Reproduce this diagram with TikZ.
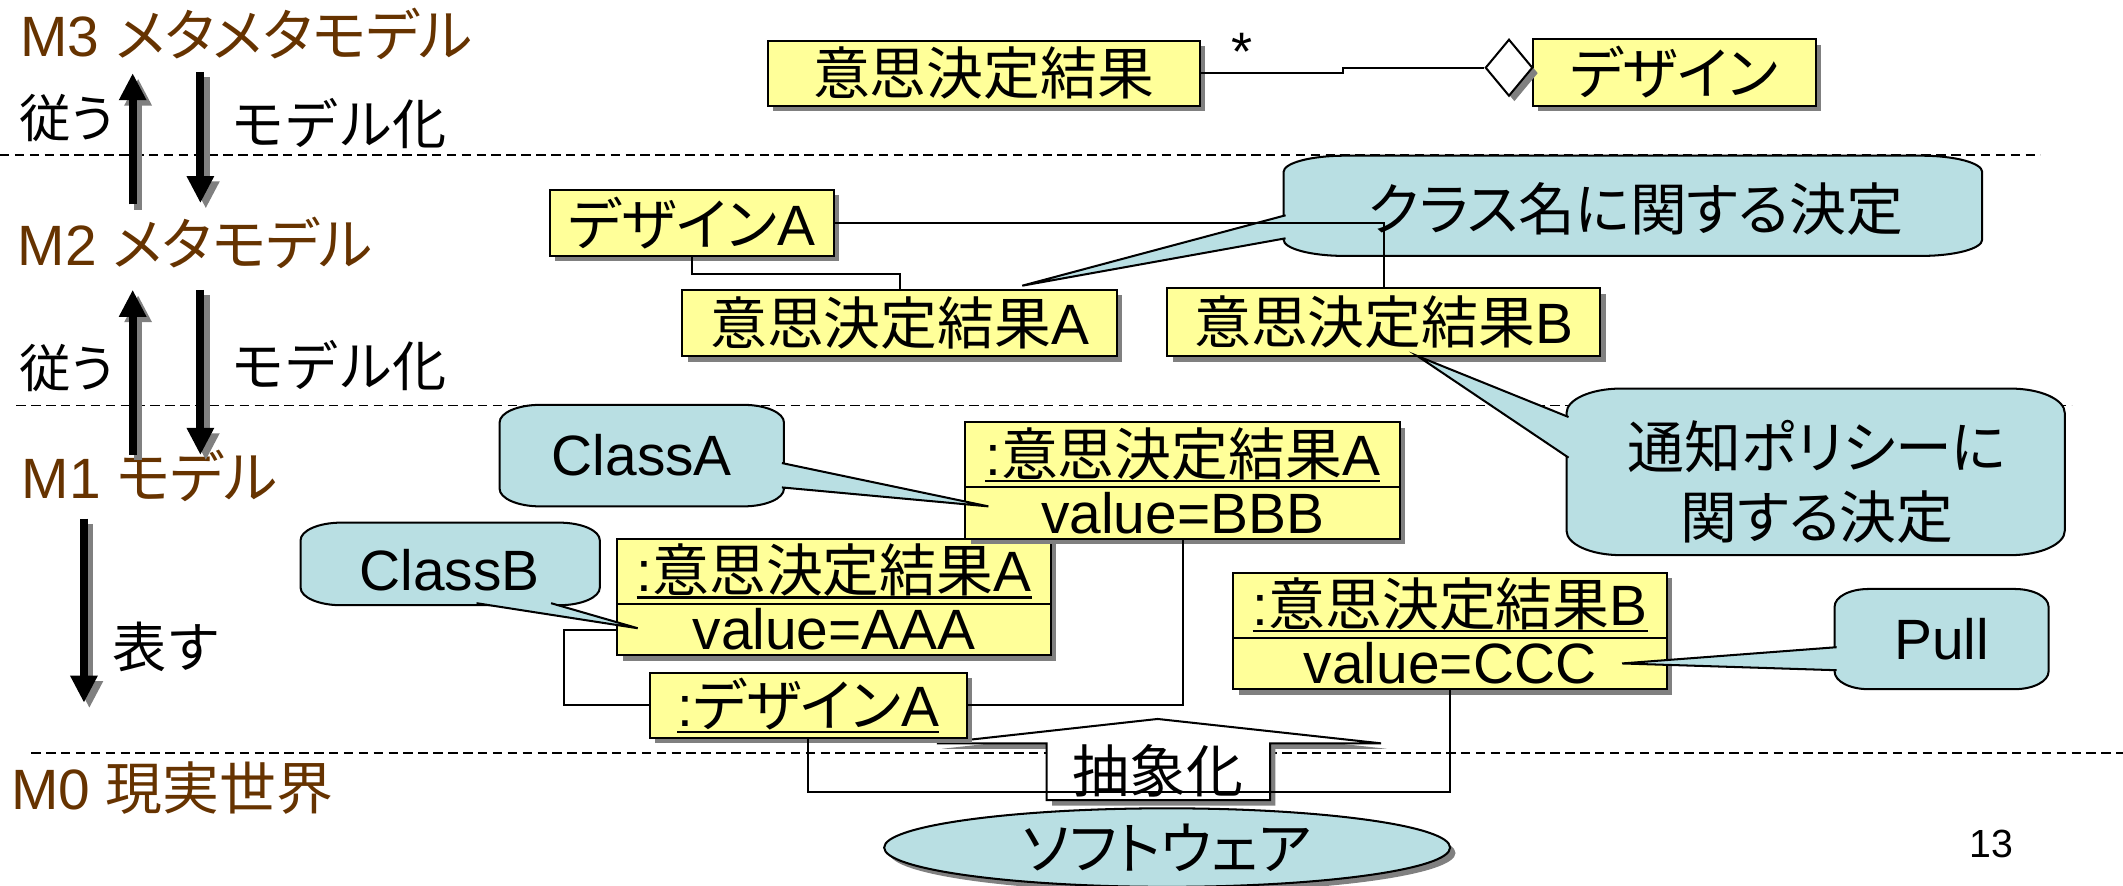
\documentclass[tikz,border=0pt]{standalone}
\usepackage{fontspec}
\setmainfont{Liberation Sans}
\newfontfamily\jpfont[RawFeature=+palt]{Noto Sans CJK JP}
\newfontfamily\jpfull{Noto Sans CJK JP}
\usetikzlibrary{arrows.meta,shapes.geometric,shadows}
\newcommand\J[1]{{\jpfont #1}}
\newcommand\JF[1]{{\jpfull #1}}
\newcommand\fsz[1]{\fontsize{#1pt}{#1pt}\selectfont}
\newcommand\ulin[1]{\setbox0\hbox{#1}\rlap{\rule[-5pt]{\wd0}{1.8pt}}\box0}
\definecolor{boxyellow}{RGB}{255,255,153}
\definecolor{callblue}{RGB}{185,223,227}
\definecolor{mbrown}{RGB}{102,51,0}
\definecolor{shadowgray}{RGB}{128,128,128}
\newcommand\callbody[6]{%
  \pgfmathsetmacro\cxa{#1+#5}\pgfmathsetmacro\cxb{#3-#5}%
  \pgfmathsetmacro\cya{#2+#6}\pgfmathsetmacro\cyb{#4-#6}%
  \pgfmathsetmacro\kxa{#1+0.4477*#5}\pgfmathsetmacro\kxb{#3-0.4477*#5}%
  \pgfmathsetmacro\kya{#2+0.4477*#6}\pgfmathsetmacro\kyb{#4-0.4477*#6}%
  \filldraw[callbody] (\cxa,#2) -- (\cxb,#2) .. controls (\kxb,#2) and (#3,\kya) .. (#3,\cya)
    -- (#3,\cyb) .. controls (#3,\kyb) and (\kxb,#4) .. (\cxb,#4)
    -- (\cxa,#4) .. controls (\kxa,#4) and (#1,\kyb) .. (#1,\cyb)
    -- (#1,\cya) .. controls (#1,\kya) and (\kxa,#2) .. (\cxa,#2) -- cycle;
}
\newcommand\callptr[3]{\fill[callblue] #1 -- #2 -- #3 -- cycle; \draw[callline] #1 -- #2 -- #3;}
\newcommand\fatarr[2]{\draw[fatshadow] ([shift={(4,4)}]#1) -- ([shift={(4,4)}]#2); \draw[fatarrow] (#1) -- (#2);}
\begin{document}
\begin{tikzpicture}[x=1pt,y=-1pt,
  box/.style={draw, line width=1.5pt, fill=boxyellow, inner sep=0pt, font=\fsz{42},
    drop shadow={shadow xshift=4pt,shadow yshift=-4pt,fill=shadowgray,opacity=1}},
  conn/.style={line width=1.4pt},
  dashline/.style={line width=1.3pt, dash pattern=on 7pt off 4pt},
  callbody/.style={fill=callblue, draw=black, line width=1.5pt},
  callline/.style={draw=black, line width=1.5pt, line join=miter},
  calltext/.style={font=\fsz{42}, inner sep=0pt},
  mlabel/.style={font=\fsz{42}, text=mbrown, inner sep=0pt, anchor=base west},
  alabel/.style={font=\fsz{40}, inner sep=0pt},
  fatarrow/.style={line width=6pt, -{Triangle[width=19pt,length=20pt]}},
  fatshadow/.style={fatarrow, draw=shadowgray}]
\useasboundingbox (0,0) rectangle (1568,654);
\fill[white] (0,0) rectangle (1568,654);

% dashed level separators
\draw[dashline] (0,114.5) -- (1507,114.5);
\draw[dashline] (12,299.5) -- (1530,299.5);
\draw[dashline] (23,556) -- (1568,556);

% level labels
\node[mlabel] (m3) at (15,42) {M3 \J{メタメタモデル}};
\node[mlabel] (m2) at (13,196) {M2 \J{メタモデル}};
\node[mlabel] (m1) at (16,368) {M1 \J{モデル}};
\node[mlabel] (m0) at (8,598) {M0 \J{現実世界}};

% fat arrows
\coordinate (a1s) at (98,151); \coordinate (a1e) at (98,54);
\coordinate (a2s) at (148,53); \coordinate (a2e) at (148,150);
\coordinate (a3s) at (98,336); \coordinate (a3e) at (98,214);
\coordinate (a4s) at (148,214); \coordinate (a4e) at (148,336);
\coordinate (a5s) at (62,383); \coordinate (a5e) at (62,519);
\fatarr{a1s}{a1e}
\fatarr{a2s}{a2e}
\fatarr{a3s}{a3e}
\fatarr{a4s}{a4e}
\fatarr{a5s}{a5e}
\node[alabel, font=\fsz{38}] (f1) at (49.5,87) {\J{従う}};
\node[alabel, anchor=west] (md1) at (170,91) {\JF{モデル化}};
\node[alabel, font=\fsz{38}] (f2) at (49.5,272) {\J{従う}};
\node[alabel, anchor=west] (md2) at (170,270) {\JF{モデル化}};
\node[alabel, anchor=west] (hyo) at (83,478) {\JF{表す}};

% M3 classes
\node[box, minimum width=319pt, minimum height=48pt] (res) at (726.5,54) {\J{意思決定結果}};
\node[box, minimum width=209pt, minimum height=49pt] (des) at (1236.5,53.5) {\J{デザイン}};
\node[diamond, draw, line width=1.5pt, fill=white, inner sep=0pt, minimum width=35pt, minimum height=42pt,
  drop shadow={shadow xshift=4pt,shadow yshift=-4pt,fill=shadowgray,opacity=1}] (dia) at (1114.5,50) {};
\node[font=\fsz{40}, inner sep=0pt, anchor=base] (star) at (917,52) {*};

% M2 classes
\node[box, minimum width=210pt, minimum height=49pt] (dA) at (511,164.5) {\J{デザイン}A};
\node[box, minimum width=321pt, minimum height=49pt] (rA) at (664.5,238.5) {\J{意思決定結果}A};
\node[box, minimum width=320pt, minimum height=50pt] (rB) at (1022,238) {\J{意思決定結果}B};

% abstraction arrow
\filldraw[fill=white, draw=black, line width=1.5pt,
  drop shadow={shadow xshift=4pt,shadow yshift=-4pt,fill=shadowgray,opacity=1}]
  (855,531) -- (1020,549) -- (938,549) -- (938,591) -- (773,591) -- (773,549) -- (692,549) -- cycle;
\node[font=\fsz{42}, inner sep=0pt] (abs) at (855,569) {\J{抽象化}};

% M1 objects
\node[box, minimum width=320pt, minimum height=48pt] (aaaN) at (616,422) {\ulin{:\J{意思決定結果}A}};
\node[box, minimum width=320pt, minimum height=38pt] (aaaV) at (616,465) {value=AAA};
\node[box, minimum width=321pt, minimum height=48pt] (bbbN) at (873.5,336) {\ulin{:\J{意思決定結果}A}};
\node[box, minimum width=321pt, minimum height=38pt] (bbbV) at (873.5,379) {value=BBB};
\node[box, minimum width=320pt, minimum height=48pt] (cccN) at (1071,447) {\ulin{:\J{意思決定結果}B}};
\node[box, minimum width=320pt, minimum height=38pt] (cccV) at (1071,490) {value=CCC};
\node[box, minimum width=234pt, minimum height=48pt] (oDA) at (597,521) {\ulin{:\J{デザイン}A}};

% M0 software
\node[ellipse, draw, line width=1.5pt, fill=callblue, minimum width=418pt, minimum height=58pt, inner sep=0pt,
  font=\fsz{42}, drop shadow={shadow xshift=4pt,shadow yshift=-4pt,fill=shadowgray,opacity=1}] (soft) at (862,626) {\J{ソフトウェア}};

% callouts
\callbody{948}{115}{1464}{189}{45}{12}
\coordinate (kTip) at (755,211);
\callptr{(949.5,159)}{(kTip)}{(949.5,176)}
\node[calltext] (kTxt) at (1208,154) {\J{クラス名に関する決定}};

\callbody{1157}{287}{1525}{410}{40}{18}
\coordinate (tTip) at (1047,263);
\callptr{(1158.5,308)}{(tTip)}{(1158.5,338)}
\node[calltext, align=center, font=\fontsize{42pt}{52pt}\selectfont] (tTxt) at (1342,356) {\J{通知ポリシーに}\\\J{関する決定}};

\callbody{369}{299}{579}{374}{30}{13}
\coordinate (caTip) at (730,374);
\callptr{(577.5,342)}{(caTip)}{(577.5,360)}
\node[calltext] (caTxt) at (474,336) {ClassA};

\callbody{222}{386}{443}{447}{30}{13}
\coordinate (cbTip) at (471,464);
\callptr{(352,445.5)}{(cbTip)}{(407,445.5)}
\node[calltext] (cbTxt) at (332,421) {ClassB};

\callbody{1355}{435}{1513}{509}{25}{13}
\coordinate (pTip) at (1198,490);
\callptr{(1356.5,478)}{(pTip)}{(1356.5,495)}
\node[calltext] (pTxt) at (1434,472) {Pull};

% connectors
\draw[conn] (res.east) -- ++(105,0) |- (dia.west);
\draw[conn] (dA.south) -- ++(0,12.5) -| (rA.north);
\draw[conn] (dA.east) -| (rB.north);
\draw[conn] (aaaV.west) -- ++(-39,0) |- (oDA.west);
\draw[conn] (oDA.east) -| (bbbV.south);
\draw[conn] (oDA.south) -- ++(0,39) -| (cccV.south);

% page number
\node[font=\fsz{29}, inner sep=0pt] (pg) at (1471,623) {13};
\end{tikzpicture}
\end{document}
